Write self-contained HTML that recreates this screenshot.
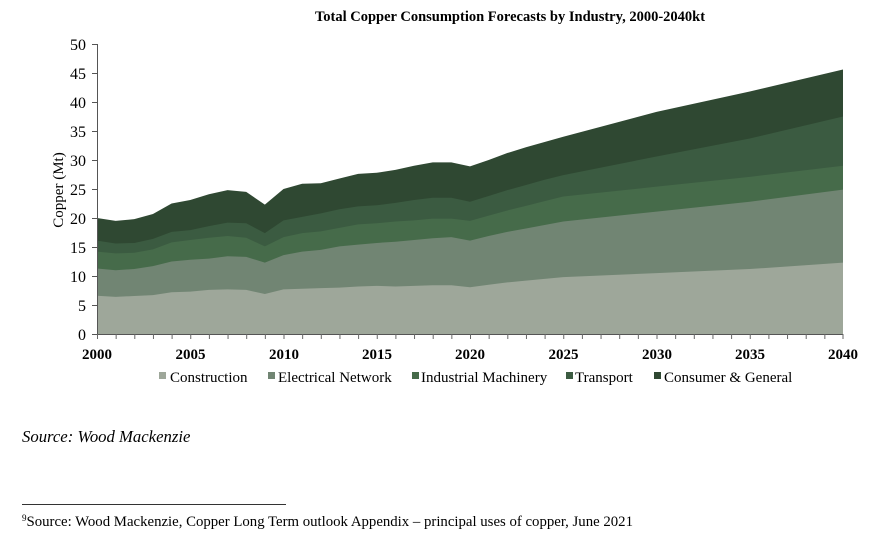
<!DOCTYPE html>
<html>
<head>
<meta charset="utf-8">
<style>
  html, body { margin: 0; padding: 0; background: #ffffff; }
  body { width: 881px; height: 534px; overflow: hidden; position: relative; }
  svg { position: absolute; left: 0; top: 0; }
</style>
</head>
<body>
<svg width="881" height="534" viewBox="0 0 881 534" xmlns="http://www.w3.org/2000/svg">
  <!-- Title -->
  <text x="510" y="21" text-anchor="middle" font-family="Liberation Serif, serif" font-weight="bold" font-size="14.5" fill="#000">Total Copper Consumption Forecasts by Industry, 2000-2040kt</text>

  <!-- Areas -->
  <g transform="translate(97,334) scale(18.65,-5.8)">
    <polygon fill="#2f4832" points="0,20 1,19.5 2,19.8 3,20.7 4,22.5 5,23.1 6,24.1 7,24.8 8,24.5 9,22.3 10,25 11,25.9 12,26 13,26.8 14,27.6 15,27.8 16,28.3 17,29 18,29.6 19,29.6 20,28.9 21,30 22,31.2 23,32.2 24,33.1 25,34 30,38.3 35,41.8 40,45.6 40,0 0,0"/>
    <polygon fill="#3b5b41" points="0,16.1 1,15.6 2,15.7 3,16.4 4,17.6 5,17.9 6,18.6 7,19.2 8,19.1 9,17.4 10,19.6 11,20.2 12,20.8 13,21.5 14,22 15,22.2 16,22.6 17,23.1 18,23.5 19,23.5 20,22.8 21,23.8 22,24.8 23,25.7 24,26.6 25,27.4 30,30.6 35,33.7 40,37.5 40,0 0,0"/>
    <polygon fill="#466b4a" points="0,14.2 1,13.9 2,14 3,14.6 4,15.8 5,16.2 6,16.6 7,16.9 8,16.6 9,15.1 10,16.7 11,17.4 12,17.7 13,18.3 14,18.9 15,19.1 16,19.4 17,19.6 18,19.9 19,19.9 20,19.5 21,20.4 22,21.3 23,22.1 24,22.9 25,23.7 30,25.4 35,27.1 40,29 40,0 0,0"/>
    <polygon fill="#718573" points="0,11.3 1,11 2,11.2 3,11.7 4,12.5 5,12.8 6,13 7,13.4 8,13.3 9,12.3 10,13.6 11,14.2 12,14.5 13,15.1 14,15.4 15,15.7 16,15.9 17,16.2 18,16.5 19,16.7 20,16.1 21,16.9 22,17.6 23,18.2 24,18.8 25,19.4 30,21.1 35,22.8 40,24.9 40,0 0,0"/>
    <polygon fill="#9ea79a" points="0,6.6 1,6.4 2,6.55 3,6.7 4,7.2 5,7.3 6,7.6 7,7.7 8,7.6 9,6.9 10,7.7 11,7.8 12,7.9 13,8 14,8.2 15,8.3 16,8.2 17,8.3 18,8.4 19,8.4 20,8.05 21,8.5 22,8.9 23,9.2 24,9.5 25,9.8 30,10.5 35,11.2 40,12.3 40,0 0,0"/>
  </g>

  <!-- Y axis -->
  <g stroke="#555" stroke-width="1" fill="none">
    <line x1="97.5" y1="44" x2="97.5" y2="334"/>
    <line x1="92" y1="44.5" x2="97.5" y2="44.5"/>
    <line x1="92" y1="73.5" x2="97.5" y2="73.5"/>
    <line x1="92" y1="102.5" x2="97.5" y2="102.5"/>
    <line x1="92" y1="131.5" x2="97.5" y2="131.5"/>
    <line x1="92" y1="160.5" x2="97.5" y2="160.5"/>
    <line x1="92" y1="189.5" x2="97.5" y2="189.5"/>
    <line x1="92" y1="218.5" x2="97.5" y2="218.5"/>
    <line x1="92" y1="247.5" x2="97.5" y2="247.5"/>
    <line x1="92" y1="276.5" x2="97.5" y2="276.5"/>
    <line x1="92" y1="305.5" x2="97.5" y2="305.5"/>
    <line x1="92" y1="334.5" x2="97.5" y2="334.5"/>
  </g>
  <g font-family="Liberation Serif, serif" font-size="16" fill="#000" text-anchor="end">
    <text x="86" y="50">50</text>
    <text x="86" y="79">45</text>
    <text x="86" y="108">40</text>
    <text x="86" y="137">35</text>
    <text x="86" y="166">30</text>
    <text x="86" y="195">25</text>
    <text x="86" y="224">20</text>
    <text x="86" y="253">15</text>
    <text x="86" y="282">10</text>
    <text x="86" y="311">5</text>
    <text x="86" y="340">0</text>
  </g>
  <text transform="translate(63,190) rotate(-90)" text-anchor="middle" font-family="Liberation Serif, serif" font-size="15" fill="#000">Copper (Mt)</text>

  <!-- X axis -->
  <g stroke="#555" stroke-width="1">
    <line x1="97" y1="334.5" x2="843" y2="334.5"/>
  </g>
  <g stroke="#666" stroke-width="1">
    <line x1="97.5" y1="334" x2="97.5" y2="339"/>
    <line x1="116.15" y1="334" x2="116.15" y2="339"/>
    <line x1="134.8" y1="334" x2="134.8" y2="339"/>
    <line x1="153.45" y1="334" x2="153.45" y2="339"/>
    <line x1="172.1" y1="334" x2="172.1" y2="339"/>
    <line x1="190.75" y1="334" x2="190.75" y2="339"/>
    <line x1="209.4" y1="334" x2="209.4" y2="339"/>
    <line x1="228.05" y1="334" x2="228.05" y2="339"/>
    <line x1="246.7" y1="334" x2="246.7" y2="339"/>
    <line x1="265.35" y1="334" x2="265.35" y2="339"/>
    <line x1="284" y1="334" x2="284" y2="339"/>
    <line x1="302.65" y1="334" x2="302.65" y2="339"/>
    <line x1="321.3" y1="334" x2="321.3" y2="339"/>
    <line x1="339.95" y1="334" x2="339.95" y2="339"/>
    <line x1="358.6" y1="334" x2="358.6" y2="339"/>
    <line x1="377.25" y1="334" x2="377.25" y2="339"/>
    <line x1="395.9" y1="334" x2="395.9" y2="339"/>
    <line x1="414.55" y1="334" x2="414.55" y2="339"/>
    <line x1="433.2" y1="334" x2="433.2" y2="339"/>
    <line x1="451.85" y1="334" x2="451.85" y2="339"/>
    <line x1="470.5" y1="334" x2="470.5" y2="339"/>
    <line x1="489.15" y1="334" x2="489.15" y2="339"/>
    <line x1="507.8" y1="334" x2="507.8" y2="339"/>
    <line x1="526.45" y1="334" x2="526.45" y2="339"/>
    <line x1="545.1" y1="334" x2="545.1" y2="339"/>
    <line x1="563.75" y1="334" x2="563.75" y2="339"/>
    <line x1="582.4" y1="334" x2="582.4" y2="339"/>
    <line x1="601.05" y1="334" x2="601.05" y2="339"/>
    <line x1="619.7" y1="334" x2="619.7" y2="339"/>
    <line x1="638.35" y1="334" x2="638.35" y2="339"/>
    <line x1="657" y1="334" x2="657" y2="339"/>
    <line x1="675.65" y1="334" x2="675.65" y2="339"/>
    <line x1="694.3" y1="334" x2="694.3" y2="339"/>
    <line x1="712.95" y1="334" x2="712.95" y2="339"/>
    <line x1="731.6" y1="334" x2="731.6" y2="339"/>
    <line x1="750.25" y1="334" x2="750.25" y2="339"/>
    <line x1="768.9" y1="334" x2="768.9" y2="339"/>
    <line x1="787.55" y1="334" x2="787.55" y2="339"/>
    <line x1="806.2" y1="334" x2="806.2" y2="339"/>
    <line x1="824.85" y1="334" x2="824.85" y2="339"/>
    <line x1="843" y1="334" x2="843" y2="339"/>
  </g>
  <g font-family="Liberation Serif, serif" font-size="15" font-weight="bold" fill="#000" text-anchor="middle">
    <text x="97" y="359">2000</text>
    <text x="190.5" y="359">2005</text>
    <text x="284" y="359">2010</text>
    <text x="377" y="359">2015</text>
    <text x="470" y="359">2020</text>
    <text x="563.5" y="359">2025</text>
    <text x="657" y="359">2030</text>
    <text x="750" y="359">2035</text>
    <text x="843" y="359">2040</text>
  </g>

  <!-- Legend -->
  <g font-family="Liberation Serif, serif" font-size="15" fill="#000">
    <rect x="159" y="372" width="7" height="7" fill="#9ea79a"/>
    <text x="170" y="382">Construction</text>
    <rect x="268" y="372" width="7" height="7" fill="#718573"/>
    <text x="278" y="382">Electrical Network</text>
    <rect x="412" y="372" width="7" height="7" fill="#466b4a"/>
    <text x="421" y="382">Industrial Machinery</text>
    <rect x="566" y="372" width="7" height="7" fill="#3b5b41"/>
    <text x="575" y="382">Transport</text>
    <rect x="654" y="372" width="7" height="7" fill="#2f4832"/>
    <text x="664" y="382">Consumer &amp; General</text>
  </g>

  <!-- Source -->
  <text x="22" y="442" font-family="Liberation Serif, serif" font-style="italic" font-size="16.7" fill="#000">Source: Wood Mackenzie</text>

  <!-- Footnote -->
  <line x1="22" y1="504.5" x2="286" y2="504.5" stroke="#333" stroke-width="1"/>
  <text x="22" y="526" font-family="Liberation Serif, serif" font-size="14.8" fill="#000"><tspan font-size="9" dy="-5">9</tspan><tspan dy="5">Source: Wood Mackenzie, Copper Long Term outlook Appendix – principal uses of copper, June 2021</tspan></text>
</svg>
</body>
</html>
